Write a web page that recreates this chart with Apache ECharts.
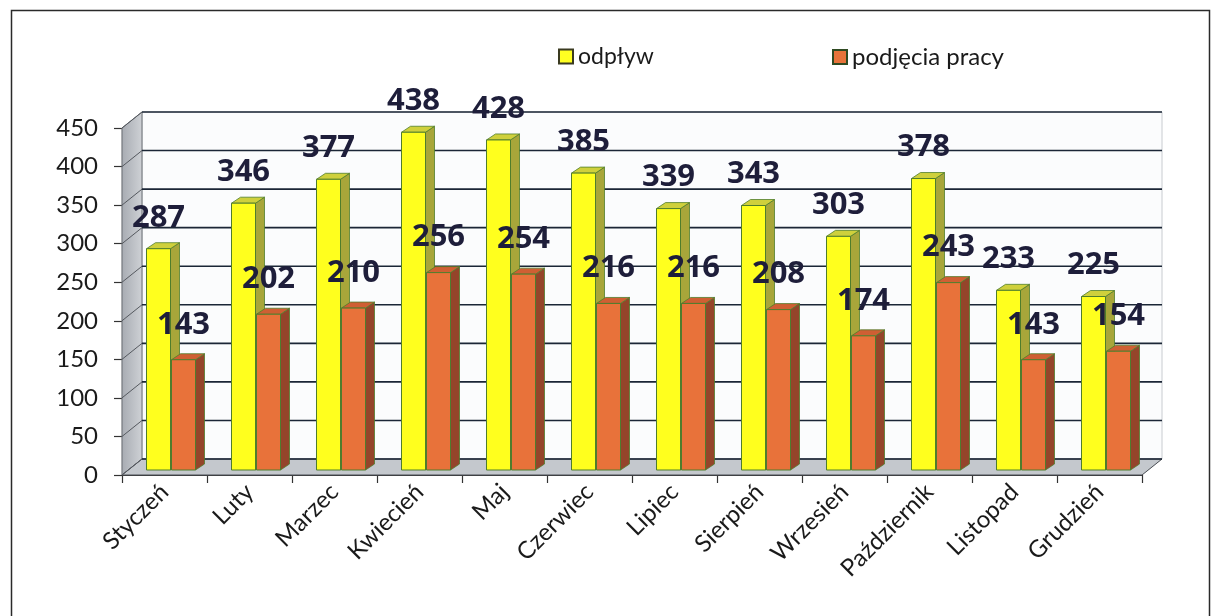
<!DOCTYPE html>
<html>
<head>
<meta charset="utf-8">
<script src="https://cdn.jsdelivr.net/npm/echarts@6/dist/echarts.min.js"></script>
<style>
html,body{margin:0;padding:0;background:#fff;}
#chart{width:1216px;height:616px;}
</style>
</head>
<body>
<div id="chart"></div>
<script>
const categories = ['Styczeń','Luty','Marzec','Kwiecień','Maj','Czerwiec','Lipiec','Sierpień','Wrzesień','Październik','Listopad','Grudzień'];
const odplyw = [287,346,377,438,428,385,339,343,303,378,233,225];
const podjecia = [143,202,210,256,254,216,216,208,174,243,143,154];
const yTicks = [0,50,100,150,200,250,300,350,400,450];
const seriesNames = ['odpływ','podjęcia pracy'];

const WX = 20, WY = -16;     // wall depth offset
const PX = 6, PY = -5;       // bar plane offset
const BW = 24;               // bar width
const DX = 9, DY = -6;       // bar depth
const GRID_COLOR = '#1b2636';
const LABEL_COLOR = '#1e1e3a';
const TEXT_FONT = 'Lato';

const chart = echarts.init(document.getElementById('chart'));

function wallsRender(params, api) {
  const band = api.size([1, 0])[0];
  const left = api.coord([0, 0])[0] - band / 2;
  const right = api.coord([categories.length - 1, 0])[0] + band / 2;
  const y0 = api.coord([0, 0])[1];
  const yTop = api.coord([0, yTicks[yTicks.length - 1]])[1];
  const children = [];
  children.push({type:'rect', shape:{x:left+WX, y:yTop+WY, width:right-left, height:y0-yTop}, style:{fill:'#fbfcfd', stroke:'#c8ccd0', lineWidth:1}});
  children.push({type:'polygon', shape:{points:[[left,y0],[left+WX,y0+WY],[left+WX,yTop+WY],[left,yTop]]},
    style:{fill:new echarts.graphic.LinearGradient(0,0,1,0,[{offset:0,color:'#a7abb2'},{offset:1,color:'#cfd2d6'}]), stroke:'#6a6e74', lineWidth:1}});
  children.push({type:'polygon', shape:{points:[[left,y0],[right,y0],[right+WX,y0+WY],[left+WX,y0+WY]]},
    style:{fill:'#c4c8cd', stroke:'#4a4e54', lineWidth:1}});
  yTicks.forEach(function (v) {
    const y = api.coord([0, v])[1];
    children.push({type:'line', shape:{x1:left+WX, y1:y+WY, x2:right+WX, y2:y+WY}, style:{stroke:GRID_COLOR, lineWidth:1.6}});
    children.push({type:'line', shape:{x1:left, y1:y, x2:left+WX, y2:y+WY}, style:{stroke:'#55595f', lineWidth:1}});
  });
  return {type:'group', children:children};
}

function makeBarRender(idx, colors, labelGap) {
  return function (params, api) {
    const ci = api.value(0);
    const v = api.value(1);
    const c = api.coord([ci, v]);
    const b = api.coord([ci, 0]);
    const x0 = (idx === 0) ? c[0] + PX - BW : c[0] + PX + 1;
    const top = c[1] + PY;
    const bot = b[1] + PY;
    const x1 = x0 + BW;
    const stroke = '#4f7d2c';
    return {type:'group', children:[
      {type:'polygon', shape:{points:[[x1,top],[x1+DX,top+DY],[x1+DX,bot+DY],[x1,bot]]}, style:{fill:colors.side, stroke:stroke, lineWidth:0.8}},
      {type:'polygon', shape:{points:[[x0,top],[x1,top],[x1+DX,top+DY],[x0+DX,top+DY]]}, style:{fill:colors.top, stroke:stroke, lineWidth:0.8}},
      {type:'rect', shape:{x:x0, y:top, width:BW, height:bot-top}, style:{fill:colors.front, stroke:stroke, lineWidth:1}},
      {type:'text', x:(x0+x1)/2, y:top-labelGap, z2:10,
        style:{text:String(v), fill:LABEL_COLOR, font:'bold 31px "Open Sans", sans-serif', align:'center', verticalAlign:'middle'}}
    ]};
  };
}

const option = {
  backgroundColor:'#ffffff',
  animation:false,
  graphic:[{type:'rect', left:9, top:8, shape:{width:1198, height:700}, style:{fill:'none', stroke:'#2a2a2a', lineWidth:1.5}, z:-10}],
  legend:[
    {data:[seriesNames[0]], left:553, top:40, icon:'rect', itemWidth:14, itemHeight:14, itemGap:6,
      textStyle:{fontSize:23, color:'#1a1a1a', fontFamily:TEXT_FONT}},
    {data:[seriesNames[1]], left:827, top:40, icon:'rect', itemWidth:14, itemHeight:14,
      textStyle:{fontSize:24, color:'#1a1a1a', fontFamily:TEXT_FONT}}
  ],
  grid:{left:122, right:74, top:128, bottom:141},
  xAxis:{type:'category', data:categories, boundaryGap:true,
    axisLine:{show:true, lineStyle:{color:'#333', width:1.2}},
    axisTick:{show:true, length:8, lineStyle:{color:'#333', width:1.2}},
    axisLabel:{rotate:45, fontSize:24, color:'#1a1a1a', fontFamily:TEXT_FONT, margin:13, interval:0},
    splitLine:{show:false}},
  yAxis:{type:'value', min:0, max:450, interval:50,
    axisLine:{show:true, lineStyle:{color:'#333', width:1.2}},
    axisTick:{show:true, length:8, lineStyle:{color:'#333', width:1.2}},
    axisLabel:{fontSize:24, color:'#1a1a1a', fontFamily:TEXT_FONT, margin:24},
    splitLine:{show:false}},
  series:[
    {type:'custom', name:'walls', silent:true, z:1, data:[[0,0]], renderItem:wallsRender},
    {type:'custom', name:seriesNames[0], z:2, silent:true,
      itemStyle:{color:'#ffff22', borderColor:'#3a3a20', borderWidth:1},
      data:odplyw.map(function(v,i){return [i,v];}),
      renderItem:makeBarRender(0, {front:'#ffff1e', side:'#a8a63a', top:'#cfd03c'}, 31)},
    {type:'custom', name:seriesNames[1], z:3, silent:true,
      itemStyle:{color:'#e8733a', borderColor:'#2f4a22', borderWidth:1},
      data:podjecia.map(function(v,i){return [i,v];}),
      renderItem:makeBarRender(1, {front:'#e8723a', side:'#94452a', top:'#cf5f33'}, 35)}
  ]
};
chart.setOption(option);
</script>
</body>
</html>
